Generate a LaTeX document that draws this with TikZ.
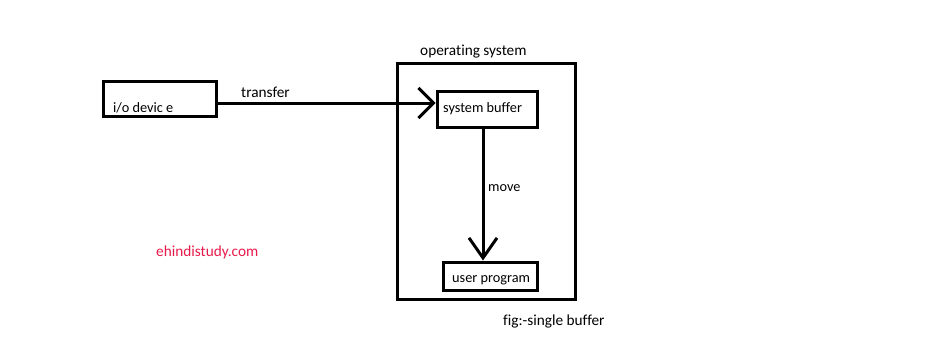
\documentclass[tikz,border=0pt]{standalone}
\usepackage{fontspec}
\setmainfont{Carlito}[Ligatures=NoCommon]
\usetikzlibrary{arrows.meta}
\definecolor{site}{RGB}{232,26,74}
\tikzset{
  box/.style={draw, line width=3pt, inner sep=0pt},
  lab/.style={inner sep=0pt, anchor=base west, font=\fontsize{15.3}{17}\selectfont},
  blab/.style={inner sep=0pt, anchor=base west, font=\fontsize{14.3}{16}\selectfont},
  conn/.style={line width=3pt},
  headA/.style={-{Straight Barb[length=15pt,width=30pt,line width=3pt]}},
  headB/.style={-{Straight Barb[length=20pt,width=28pt,line width=3pt]}}
}
\begin{document}
\begin{tikzpicture}[x=1pt,y=-1pt]
\useasboundingbox (0,0) rectangle (932,364);
% boxes
\node[box, minimum width=113pt, minimum height=35pt] (io) at (159.5,98.5) {};
\node[box, minimum width=178pt, minimum height=236pt] (os) at (486,181) {};
\node[box, minimum width=100pt, minimum height=36pt] (sysbuf) at (487,109) {};
\node[box, minimum width=94pt, minimum height=28pt] (user) at (490,276) {};
% texts
\node[blab] (iot) at (113,112) {i/o devic e};
\node[blab] (sbt) at (443,112) {system buffer};
\node[blab] (ut) at (452,282) {user program};
\node[lab] (ost) at (420,55) {operating system};
\node[lab] (tt) at (241,97) {transfer};
\node[blab] (mt) at (488,191) {move};
\node[lab, text=site] (web) at (156,256) {ehindistudy.com};
\node[lab] (cap) at (503,325) {fig:-single buffer};
% connectors
\coordinate (ts) at ([yshift=-4.5pt]io.east);
\draw[conn, headA] (ts) -- (ts -| sysbuf.west);
\coordinate (ms) at ([xshift=-4pt]sysbuf.south);
\draw[conn, headB] (ms) -- (ms |- user.north);
\end{tikzpicture}
\end{document}
